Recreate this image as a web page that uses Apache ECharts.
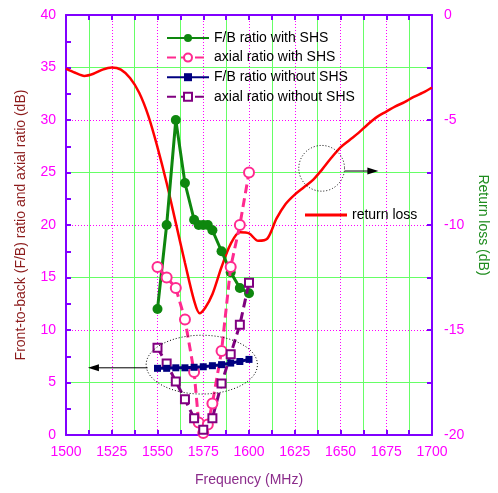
<!DOCTYPE html>
<html><head><meta charset="utf-8">
<script src="https://cdn.jsdelivr.net/npm/echarts@6/dist/echarts.min.js"></script>
<style>html,body{margin:0;padding:0;background:#fff}#c{width:498px;height:493px}</style>
</head><body><div id="c"></div>
<script>
// ---- data ----
const fbWithFreq = [1550, 1555, 1560, 1565, 1570, 1572.5, 1575, 1577.5, 1580, 1585, 1590, 1595, 1600];
const fbWithSHS  = [12, 20, 30, 24, 20.5, 20, 20, 20, 19.5, 17.5, 15.5, 14, 13.5];
const arWithFreq = [1550, 1555, 1560, 1565, 1570, 1572.5, 1575, 1577.5, 1580, 1585, 1590, 1595, 1600];
const arWithSHS  = [16, 15, 14, 11, 6, 1.2, 0.2, 1.0, 3.0, 8, 16, 20, 25];
const noShsFreq  = [1550, 1555, 1560, 1565, 1570, 1575, 1580, 1585, 1590, 1595, 1600];
const fbWithoutSHS = [6.35, 6.35, 6.4, 6.4, 6.45, 6.5, 6.6, 6.7, 6.85, 7.0, 7.2];
const arWithoutSHS = [8.3, 6.8, 5.1, 3.4, 1.6, 0.5, 1.6, 4.9, 7.7, 10.5, 14.5];
const rlFreq = [1500, 1505, 1510, 1515, 1520, 1525, 1530, 1535, 1540, 1545, 1550, 1555, 1560, 1565, 1570, 1573, 1576, 1580, 1585, 1590, 1595, 1600, 1605, 1610, 1615, 1620, 1625, 1630, 1635, 1640, 1645, 1650, 1655, 1660, 1665, 1670, 1675, 1680, 1685, 1690, 1695, 1700];
const returnLoss = [-2.55, -2.75, -2.9, -2.8, -2.6, -2.5, -2.6, -3.0, -3.7, -4.8, -6.3, -8.0, -9.9, -11.8, -13.6, -14.2, -13.95, -13.3, -12.0, -10.9, -10.35, -10.4, -10.75, -10.65, -9.7, -9.0, -8.55, -8.2, -7.85, -7.35, -6.8, -6.3, -5.95, -5.6, -5.2, -4.85, -4.6, -4.35, -4.15, -3.9, -3.7, -3.45];
const xTicks = {min: 1500, max: 1700, step: 25};
const leftTicks = {min: 0, max: 40, step: 5};
const rightTicks = {min: -20, max: 0, step: 5};
const seriesNames = ['F/B ratio with SHS', 'axial ratio with SHS', 'F/B ratio without SHS', 'axial ratio without SHS', 'return loss'];

const zip = (xs, ys) => xs.map((x, i) => [x, ys[i]]);
const FONT = 'Liberation Sans';
const AXIS = '#8000ff';
const LBL = '#ff00ff';

const chart = echarts.init(document.getElementById('c'), null, {renderer: 'canvas'});
const tickInside = {show: true, inside: true, length: 5, lineStyle: {color: AXIS, width: 2}};
const minorInside = {show: true, splitNumber: 2, length: 5, lineStyle: {color: AXIS, width: 2}};

chart.setOption({
  animation: false,
  backgroundColor: '#fff',
  textStyle: {fontFamily: FONT},
  grid: {left: 66, right: 64, top: 15, bottom: 58, containLabel: false},
  legend: [{
    data: seriesNames.slice(0, 4), orient: 'vertical', left: 161, top: 26,
    itemWidth: 42, itemHeight: 10, itemGap: 5.6,
    textStyle: {fontSize: 14, color: '#000', fontFamily: FONT},
    selectedMode: false
  }, {
    data: [{name: seriesNames[4], icon: 'rect'}], orient: 'vertical', left: 300, top: 203,
    itemWidth: 42, itemHeight: 3,
    textStyle: {fontSize: 14, color: '#000', fontFamily: FONT},
    selectedMode: false
  }],
  xAxis: [{
    type: 'value', position: 'bottom', min: xTicks.min, max: xTicks.max, interval: xTicks.step,
    axisLine: {show: true, onZero: false, lineStyle: {color: AXIS, width: 2}},
    axisTick: tickInside, minorTick: minorInside,
    axisLabel: {color: LBL, fontSize: 14, margin: 10, fontFamily: FONT, formatter: v => String(v)},
    splitLine: {show: true, lineStyle: {color: '#ff00ff', type: [1, 2], width: 1}},
    minorSplitLine: {show: true, lineStyle: {color: '#66ff66', width: 1}},
    name: 'Frequency (MHz)', nameLocation: 'middle', nameGap: 38,
    nameTextStyle: {color: '#8b2c8b', fontSize: 14, fontFamily: FONT}
  }, {
    type: 'value', position: 'top', min: xTicks.min, max: xTicks.max, interval: xTicks.step,
    axisLine: {show: true, onZero: false, lineStyle: {color: AXIS, width: 2}},
    axisTick: tickInside, minorTick: minorInside,
    axisLabel: {show: false}, splitLine: {show: false}
  }],
  yAxis: [{
    type: 'value', position: 'left', min: leftTicks.min, max: leftTicks.max, interval: leftTicks.step,
    axisLine: {show: true, onZero: false, lineStyle: {color: AXIS, width: 2}},
    axisTick: tickInside, minorTick: minorInside,
    axisLabel: {color: LBL, fontSize: 14, margin: 10, fontFamily: FONT},
    splitLine: {show: false},
    name: 'Front-to-back (F/B) ratio and axial ratio (dB)', nameLocation: 'middle', nameGap: 38,
    nameTextStyle: {color: '#8b1a1a', fontSize: 14, fontFamily: FONT}
  }, {
    type: 'value', position: 'right', min: rightTicks.min, max: rightTicks.max, interval: rightTicks.step,
    axisLine: {show: true, onZero: false, lineStyle: {color: AXIS, width: 2}},
    axisTick: tickInside, minorTick: minorInside,
    axisLabel: {color: LBL, fontSize: 14, margin: 12, fontFamily: FONT},
    splitLine: {show: true, lineStyle: {color: '#ff00ff', type: [1, 2], width: 1}},
    minorSplitLine: {show: true, lineStyle: {color: '#66ff66', width: 1}},
    name: 'Return loss (dB)', nameLocation: 'middle', nameGap: 44, nameRotate: -90,
    nameTextStyle: {color: '#1e8c1e', fontSize: 14, fontFamily: FONT}
  }],
  series: [{
    name: seriesNames[4], type: 'line', yAxisIndex: 1, data: zip(rlFreq, returnLoss),
    smooth: 0.3, showSymbol: false, symbol: 'none',
    lineStyle: {color: '#ff0000', width: 2.5}, itemStyle: {color: '#ff0000'}, z: 2
  }, {
    name: seriesNames[0], type: 'line', data: zip(fbWithFreq, fbWithSHS),
    symbol: 'circle', symbolSize: 10,
    lineStyle: {color: '#0e870e', width: 3}, itemStyle: {color: '#0e870e'}, z: 3
  }, {
    name: seriesNames[1], type: 'line', data: zip(arWithFreq, arWithSHS),
    symbol: 'emptyCircle', symbolSize: 10,
    lineStyle: {color: '#ff2a8f', width: 3, type: [9, 5]},
    itemStyle: {color: '#ff2a8f', borderWidth: 1.5}, z: 4
  }, {
    name: seriesNames[2], type: 'line', data: zip(noShsFreq, fbWithoutSHS),
    symbol: 'rect', symbolSize: 7,
    lineStyle: {color: '#000080', width: 3}, itemStyle: {color: '#000080'}, z: 5
  }, {
    name: seriesNames[3], type: 'line', data: zip(noShsFreq, arWithoutSHS),
    symbol: 'emptyRect', symbolSize: 8,
    lineStyle: {color: '#800080', width: 3, type: [9, 5]},
    itemStyle: {color: '#800080', borderWidth: 1.2}, z: 4
  }]
});

// ---- annotations (dotted ellipses and arrows), anchored in data coordinates ----
const L = (x, y) => chart.convertToPixel({xAxisIndex: 0, yAxisIndex: 0}, [x, y]);
const R = (x, y) => chart.convertToPixel({xAxisIndex: 0, yAxisIndex: 1}, [x, y]);
const e1c = L(1574.2, 6.7), e1r = L(1604.6, 9.5);
const c2c = R(1639.7, -7.3), c2r = R(1652.2, -7.3);
const a1s = L(1544.6, 6.4), a1e = L(1512, 6.4);
const a2s = R(1652.2, -7.43), a2e = R(1670.7, -7.43);
const dotted = {stroke: '#000', lineWidth: 1, lineDash: [1, 2], fill: null};
const head = (p, dir) => ({type: 'polygon', z: 100, shape: {points: [[p[0], p[1]], [p[0] - dir * 11, p[1] - 3.5], [p[0] - dir * 11, p[1] + 3.5]]}, style: {fill: '#000'}});
chart.setOption({graphic: [
  {type: 'ellipse', z: 100, shape: {cx: e1c[0], cy: e1c[1], rx: e1r[0] - e1c[0], ry: e1c[1] - e1r[1]}, style: dotted},
  {type: 'circle', z: 100, shape: {cx: c2c[0], cy: c2c[1], r: c2r[0] - c2c[0]}, style: dotted},
  {type: 'line', z: 100, shape: {x1: a1s[0], y1: a1s[1], x2: a1e[0] + 8, y2: a1e[1]}, style: {stroke: '#000', lineWidth: 1}},
  head(a1e, -1),
  {type: 'line', z: 100, shape: {x1: a2s[0], y1: a2s[1], x2: a2e[0] - 8, y2: a2e[1]}, style: {stroke: '#000', lineWidth: 1}},
  head(a2e, 1)
]});
</script></body></html>
